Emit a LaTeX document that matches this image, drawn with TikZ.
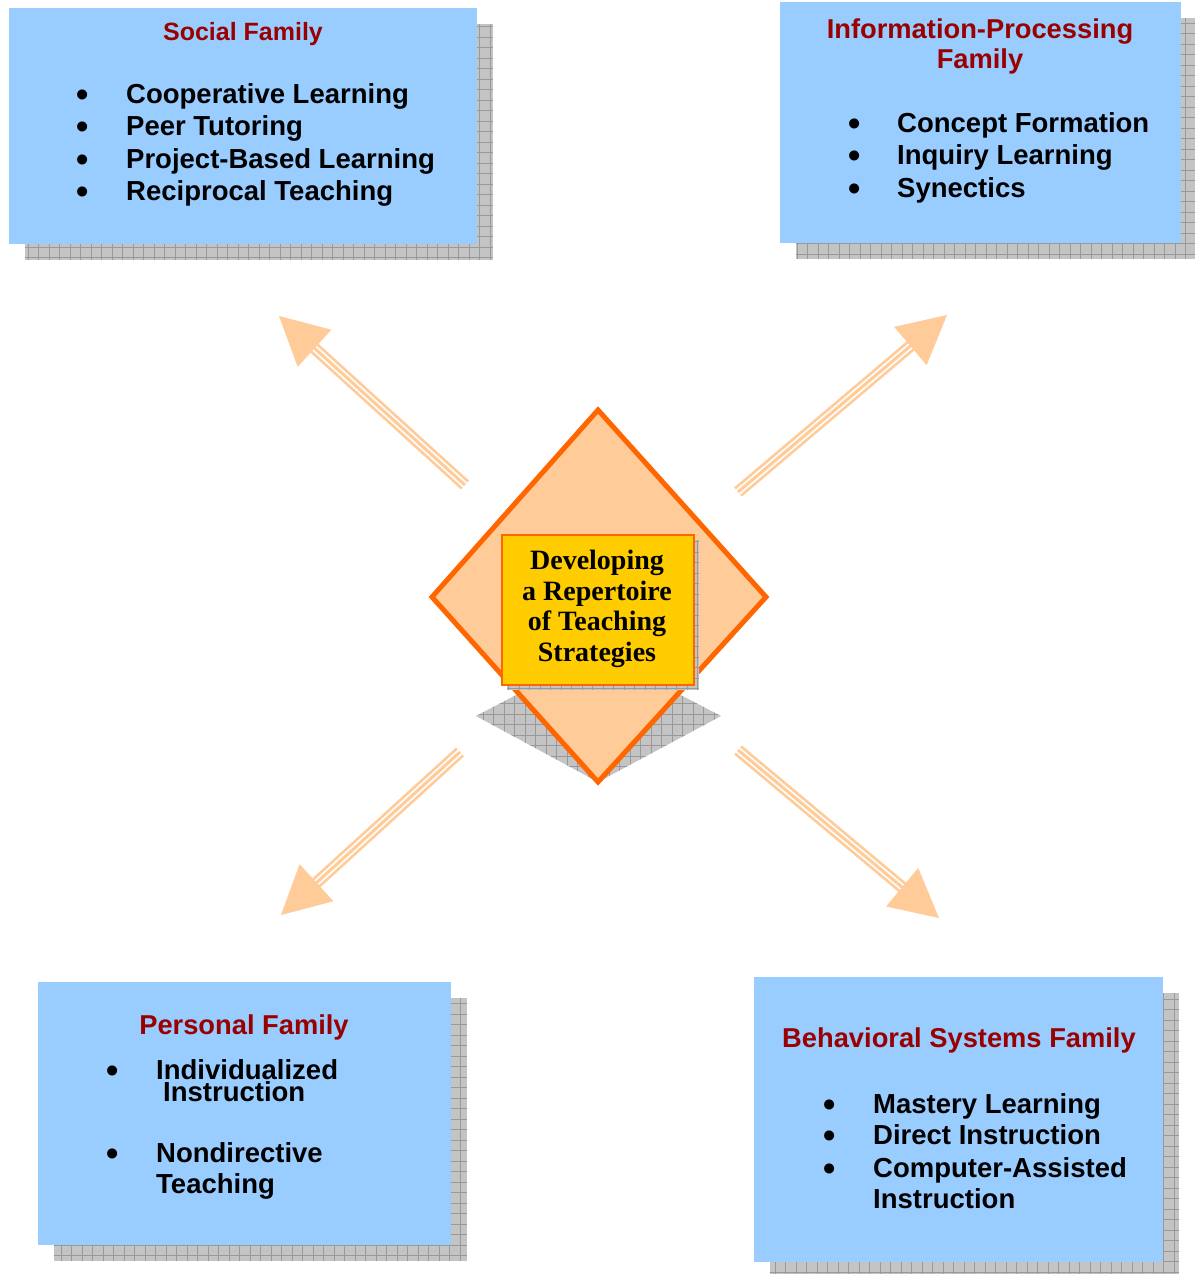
\documentclass[tikz,border=0pt]{standalone}
\usepackage{fontspec}
\newfontfamily\arialf{Liberation Sans}
\newfontfamily\timesf{Liberation Serif}
\usetikzlibrary{arrows.meta}

\definecolor{boxblue}{HTML}{99CCFF}
\definecolor{peach}{HTML}{FFCC99}
\definecolor{deeporange}{HTML}{FF6600}
\definecolor{gold}{HTML}{FFCC00}
\definecolor{titlered}{HTML}{990000}
\definecolor{shadegray}{HTML}{C4C4C4}
\definecolor{shadeline}{HTML}{999999}

\begin{document}
\begin{tikzpicture}[x=1pt,y=-1pt,
  box/.style={fill=boxblue, draw=none, anchor=north west, inner sep=0pt, outer sep=0pt},
  shade/.style={fill=shadegray, draw=none, anchor=north west, inner sep=0pt, outer sep=0pt,
    path picture={\draw[shadeline, line width=0.8pt, step=10.5pt]
      (path picture bounding box.south west) grid (path picture bounding box.north east);}},
  title/.style={font=\arialf\bfseries\fontsize{27.3}{32}\selectfont, text=titlered, inner sep=0pt, anchor=base},
  item/.style={font=\arialf\bfseries\fontsize{27.5}{32}\selectfont, text=black, inner sep=0pt, anchor=base west},
  dot/.style={font=\arialf\bfseries\fontsize{35}{40}\selectfont, text=black, inner sep=0pt,
    text height=14pt, text depth=0pt, anchor=base, yshift=-3pt},
  ctext/.style={font=\timesf\bfseries\fontsize{28}{31}\selectfont, text=black, inner sep=0pt, anchor=base},
  shaft/.style={draw=peach, line width=12pt, shorten >=42pt},
  shaftgap/.style={draw=white, line width=6.5pt, shorten >=40pt, shorten <=-1pt},
  shaftcore/.style={draw=peach, line width=3pt, shorten >=42pt},
  head/.style={draw=peach, line width=0.5pt, -{Triangle[length=48pt,width=50pt]}}
]
\useasboundingbox (0,0) rectangle (1194,1274);

% ---------- four family boxes with grid shadows ----------
\node[shade, minimum width=468pt, minimum height=236pt] (socialsh) at (25,24) {};
\node[box,   minimum width=468pt, minimum height=236pt] (social) at (9,8) {};

\node[shade, minimum width=401pt, minimum height=241pt] (infosh) at (796,18) {};
\node[box,   minimum width=401pt, minimum height=241pt] (info) at (780,2) {};

\node[shade, minimum width=413pt, minimum height=263pt] (personalsh) at (54,998) {};
\node[box,   minimum width=413pt, minimum height=263pt] (personal) at (38,982) {};

\node[shade, minimum width=409pt, minimum height=285pt] (behavsh) at (770,993) {};
\node[box,   minimum width=409pt, minimum height=285pt] (behav) at (754,977) {};

% ---------- arrows from the centre outwards ----------
\coordinate (tailA) at (465,485);  \coordinate (tipA) at (279,316);
\coordinate (tailB) at (738,492);  \coordinate (tipB) at (947,315);
\coordinate (tailC) at (460,752);  \coordinate (tipC) at (281,915);
\coordinate (tailD) at (738,750);  \coordinate (tipD) at (939,918);
\foreach \t/\h in {tailA/tipA, tailB/tipB, tailC/tipC, tailD/tipD}{
  \draw[shaft] (\t) -- (\h);
  \draw[shaftgap] (\t) -- (\h);
  \draw[shaftcore] (\t) -- (\h);
  \draw[head] (\t) -- (\h);
}

% ---------- central diamond ----------
\begin{scope}
  \clip (598,652) -- (721,716) -- (598,782) -- (476,716) -- cycle;
  \fill[shadegray] (470,640) rectangle (730,790);
  \draw[shadeline, line width=0.8pt, step=10.5pt] (470,790) grid (730,640);
\end{scope}
\draw[fill=peach, draw=deeporange, line width=5pt, line join=miter]
  (598,410) -- (766,597) -- (598,782) -- (432,597) -- cycle;

\node[shade, minimum width=192pt, minimum height=150pt] (centresh) at (507,540) {};
\node[fill=gold, draw=deeporange, line width=2pt, anchor=north west, inner sep=0pt,
  minimum width=192pt, minimum height=150pt] (centre) at (501,534) {};

\node[ctext] (c1) at (597,569) {Developing};
\node[ctext] (c2) at (597,600) {a Repertoire};
\node[ctext] (c3) at (597,630) {of Teaching};
\node[ctext] (c4) at (597,661) {Strategies};

% ---------- Social Family ----------
\node[title, font=\arialf\bfseries\fontsize{25}{29}\selectfont] (st) at (243,40) {Social Family};
\node[dot] (sb1) at (83,103) {•};   \node[item] (s1) at (126,103) {Cooperative Learning};
\node[dot] (sb2) at (83,135.5) {•}; \node[item] (s2) at (126,135.5) {Peer Tutoring};
\node[dot] (sb3) at (83,168) {•};   \node[item] (s3) at (126,168) {Project-Based Learning};
\node[dot] (sb4) at (83,200.5) {•}; \node[item] (s4) at (126,200.5) {Reciprocal Teaching};

% ---------- Information-Processing Family ----------
\node[title] (it1) at (980,38) {Information-Processing};
\node[title] (it2) at (980,68) {Family};
\node[dot] (ib1) at (855,132) {•};   \node[item] (i1) at (897,132) {Concept Formation};
\node[dot] (ib2) at (855,164.5) {•}; \node[item] (i2) at (897,164.5) {Inquiry Learning};
\node[dot] (ib3) at (855,197) {•};   \node[item] (i3) at (897,197) {Synectics};

% ---------- Personal Family ----------
\node[title] (pt) at (244,1034) {Personal Family};
\node[dot] (pb1) at (113,1079) {•}; \node[item] (p1) at (156,1079) {Individualized};
\node[item] (p1b) at (163,1101) {Instruction};
\node[dot] (pb2) at (113,1162) {•}; \node[item] (p2) at (156,1162) {Nondirective};
\node[item] (p2b) at (156,1193) {Teaching};

% ---------- Behavioral Systems Family ----------
\node[title] (bt) at (959,1047) {Behavioral Systems Family};
\node[dot] (bb1) at (830,1113) {•}; \node[item] (b1) at (873,1113) {Mastery Learning};
\node[dot] (bb2) at (830,1144) {•}; \node[item] (b2) at (873,1144) {Direct Instruction};
\node[dot] (bb3) at (830,1177) {•}; \node[item] (b3) at (873,1177) {Computer-Assisted};
\node[item] (b3b) at (873,1208) {Instruction};
\end{tikzpicture}
\end{document}
